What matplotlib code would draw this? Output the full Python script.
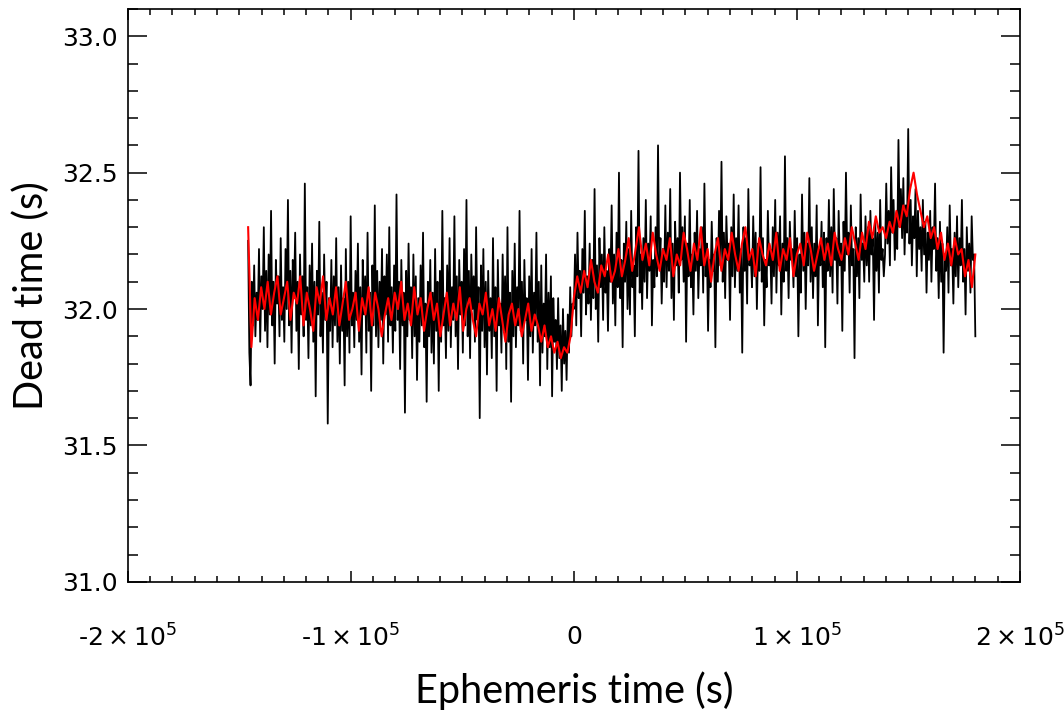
import numpy as np
import matplotlib
matplotlib.use("Agg")
import matplotlib.pyplot as plt
from matplotlib.ticker import MultipleLocator, FixedLocator, FixedFormatter

# black trace, before and after t = 0
black_before = [
    32.25, 31.84, 31.72, 32.10, 31.94, 32.16, 31.90, 32.06, 31.96, 32.22, 31.88, 32.12, 32.00, 32.30, 31.92,
    32.14, 31.86, 32.20, 31.98, 32.36, 31.94, 32.10, 31.80, 32.18, 32.02, 32.12, 31.90, 32.26, 31.96, 32.08,
    31.88, 32.22, 32.00, 32.40, 31.94, 32.14, 31.84, 32.18, 32.04, 32.28, 31.92, 32.10, 31.78, 32.20, 31.98,
    32.12, 31.90, 32.46, 31.96, 32.08, 31.82, 32.16, 31.94, 32.24, 31.88, 32.10, 31.68, 32.14, 31.98, 32.32,
    31.90, 32.06, 31.84, 32.20, 31.96, 32.10, 31.58, 32.04, 31.92, 32.18, 31.86, 32.12, 31.94, 32.26, 31.88,
    32.08, 31.80, 32.16, 31.92, 32.04, 31.72, 32.22, 31.90, 32.10, 31.84, 32.34, 31.94, 32.06, 31.86, 32.14,
    31.96, 32.24, 31.88, 32.08, 31.76, 32.18, 31.98, 32.12, 31.84, 32.28, 31.92, 32.06, 31.70, 32.16, 31.94,
    32.38, 31.90, 32.14, 31.86, 32.10, 31.96, 32.22, 31.80, 32.12, 31.98, 32.20, 31.88, 32.30, 31.94, 32.08,
    31.84, 32.16, 31.92, 32.42, 31.96, 32.10, 31.78, 32.18, 31.94, 32.06, 31.62, 32.14, 31.90, 32.24, 31.96,
    32.08, 31.82, 32.20, 31.90, 32.12, 31.74, 32.04, 31.88, 32.16, 31.94, 32.28, 31.86, 32.02, 31.66, 32.10,
    31.90, 32.18, 31.84, 32.06, 31.80, 32.22, 31.92, 32.10, 31.70, 32.14, 31.88, 32.36, 31.94, 32.04, 31.82,
    32.16, 31.92, 32.26, 31.86, 32.08, 31.96, 32.34, 31.90, 32.12, 31.78, 32.18, 31.98, 32.10, 31.84, 32.22,
    31.94, 32.40, 31.90, 32.14, 31.82, 32.20, 32.00, 32.12, 31.88, 32.30, 31.96, 32.08, 31.60, 32.16, 31.92,
    32.22, 31.86, 32.10, 31.76, 32.14, 31.92, 32.04, 31.82, 32.26, 31.90, 32.08, 31.70, 32.18, 31.94, 32.02,
    31.84, 32.20, 31.92, 32.12, 31.78, 32.30, 31.88, 32.06, 31.66, 32.14, 31.90, 32.24, 31.86, 32.08, 31.94,
    32.36, 31.92, 32.10, 31.80, 32.18, 31.96, 32.04, 31.74, 32.12, 31.90, 32.22, 31.84, 32.06, 31.94, 32.28,
    31.88, 32.10, 31.72, 32.16, 31.84, 32.02, 31.90, 32.20, 31.78, 32.06, 31.86, 32.12, 31.68, 32.04, 31.88,
    31.96, 31.78, 32.04, 31.82, 31.94, 31.70, 32.00, 31.80, 31.92, 31.74, 31.98, 31.84, 32.08, 31.90, 32.02,
]
black_after = [
    32.00, 32.20, 31.94, 32.28, 32.04, 32.14, 31.90, 32.22, 32.06, 32.36, 31.98, 32.12, 32.02, 32.24, 31.96,
    32.18, 32.04, 32.44, 32.00, 32.16, 31.88, 32.26, 32.08, 32.20, 31.96, 32.30, 32.06, 32.14, 31.92, 32.22,
    32.10, 32.38, 32.02, 32.20, 31.94, 32.28, 32.08, 32.50, 32.04, 32.18, 31.86, 32.24, 32.10, 32.32, 32.00,
    32.22, 31.98, 32.36, 32.08, 32.16, 31.90, 32.30, 32.12, 32.58, 32.06, 32.20, 32.00, 32.26, 32.10, 32.40,
    32.04, 32.24, 32.14, 32.34, 31.94, 32.18, 32.08, 32.30, 32.12, 32.60, 32.16, 32.26, 32.02, 32.22, 32.10,
    32.38, 32.08, 32.28, 32.14, 32.44, 32.04, 32.24, 31.96, 32.32, 32.16, 32.26, 32.06, 32.50, 32.18, 32.30,
    32.10, 32.34, 31.88, 32.24, 32.12, 32.40, 32.08, 32.20, 31.98, 32.28, 32.14, 32.36, 32.04, 32.22, 32.16,
    32.30, 32.06, 32.46, 32.12, 32.24, 31.92, 32.18, 32.08, 32.32, 32.14, 32.20, 31.86, 32.26, 32.10, 32.36,
    32.16, 32.54, 32.10, 32.28, 32.04, 32.34, 32.18, 32.24, 31.96, 32.30, 32.12, 32.42, 32.08, 32.26, 32.14,
    32.38, 32.06, 32.22, 31.84, 32.30, 32.14, 32.26, 32.02, 32.44, 32.16, 32.20, 32.08, 32.34, 32.12, 32.28,
    32.00, 32.24, 32.14, 32.52, 32.10, 32.26, 31.94, 32.18, 32.08, 32.36, 32.16, 32.22, 32.02, 32.30, 32.12,
    32.40, 32.06, 32.28, 32.16, 32.34, 31.98, 32.24, 32.10, 32.56, 32.14, 32.26, 32.04, 32.32, 32.18, 32.22,
    32.08, 32.36, 32.12, 32.26, 31.90, 32.20, 32.06, 32.42, 32.14, 32.28, 32.00, 32.24, 32.16, 32.48, 32.10,
    32.30, 32.04, 32.24, 32.12, 32.38, 31.94, 32.22, 32.16, 32.32, 32.08, 32.28, 31.86, 32.26, 32.14, 32.40,
    32.12, 32.30, 32.06, 32.44, 32.18, 32.26, 32.02, 32.36, 32.16, 32.24, 31.92, 32.32, 32.14, 32.50, 32.20,
    32.28, 32.06, 32.38, 32.16, 32.22, 31.82, 32.30, 32.12, 32.26, 32.04, 32.42, 32.18, 32.24, 32.10, 32.34,
    32.16, 32.30, 32.10, 32.36, 32.20, 32.26, 31.96, 32.32, 32.14, 32.28, 32.06, 32.40, 32.18, 32.22, 32.12,
    32.20, 32.46, 32.24, 32.36, 32.16, 32.52, 32.28, 32.40, 32.18, 32.34, 32.22, 32.62, 32.30, 32.44, 32.26,
    32.48, 32.20, 32.38, 32.28, 32.66, 32.24, 32.40, 32.16, 32.34, 32.26, 32.44, 32.12, 32.36, 32.22, 32.30,
    32.14, 32.40, 32.20, 32.32, 32.06, 32.28, 32.18, 32.36, 32.10, 32.30, 32.22, 32.46, 32.14, 32.26, 32.04,
    32.32, 32.10, 32.24, 31.84, 32.20, 32.14, 32.30, 32.06, 32.38, 32.16, 32.22, 32.02, 32.28, 32.12, 32.34,
    32.08, 32.26, 32.16, 32.40, 32.10, 32.22, 31.98, 32.30, 32.14, 32.24, 32.06, 32.34, 32.18, 32.20, 31.90,
]

# red (smoothed) trace
red_before = [
    32.30, 31.86, 32.04, 31.96, 32.08, 32.00, 32.10, 31.98, 32.06, 32.12, 31.98, 32.04, 32.10, 31.96, 32.06,
    32.02, 32.12, 31.94, 32.06, 32.00, 31.92, 32.08, 32.02, 32.12, 31.96, 32.04, 31.98, 32.08, 31.94, 32.02,
    32.10, 31.96, 32.00, 32.06, 31.92, 32.04, 31.98, 32.08, 31.94, 32.06, 32.00, 31.90, 31.98, 32.04, 31.96,
    32.06, 32.00, 32.10, 31.96, 32.02, 31.94, 32.08, 31.98, 32.04, 31.92, 32.00, 32.06, 31.96, 32.02, 31.90,
    31.98, 32.06, 31.94, 32.02, 31.96, 32.08, 31.92, 32.00, 32.04, 31.96, 31.90, 32.02, 31.98, 32.06, 31.94,
    32.00, 31.92, 32.04, 31.96, 31.88, 31.98, 32.02, 31.94, 32.00, 31.90, 31.96, 32.02, 31.92, 31.98, 31.94,
    31.88, 31.94, 31.86, 31.90, 31.84, 31.88, 31.82, 31.86, 31.84, 31.90,
]
red_after = [
    32.04, 32.12, 32.06, 32.14, 32.08, 32.18, 32.10, 32.06, 32.16, 32.12, 32.20, 32.10, 32.14, 32.22, 32.12,
    32.18, 32.26, 32.14, 32.22, 32.30, 32.18, 32.24, 32.16, 32.28, 32.20, 32.14, 32.22, 32.18, 32.26, 32.12,
    32.20, 32.16, 32.28, 32.22, 32.14, 32.24, 32.18, 32.30, 32.16, 32.22, 32.10, 32.20, 32.26, 32.14, 32.22,
    32.18, 32.28, 32.20, 32.14, 32.24, 32.30, 32.18, 32.22, 32.12, 32.26, 32.20, 32.16, 32.24, 32.18, 32.28,
    32.14, 32.22, 32.18, 32.26, 32.12, 32.20, 32.24, 32.16, 32.28, 32.22, 32.14, 32.20, 32.26, 32.18, 32.24,
    32.16, 32.28, 32.22, 32.18, 32.26, 32.20, 32.30, 32.24, 32.18, 32.28, 32.22, 32.32, 32.26, 32.34, 32.28,
    32.30, 32.26, 32.32, 32.28, 32.36, 32.30, 32.38, 32.34, 32.44, 32.50, 32.42, 32.36, 32.30, 32.34, 32.26,
    32.30, 32.22, 32.28, 32.18, 32.24, 32.16, 32.26, 32.20, 32.22, 32.12, 32.18, 32.08, 32.20,
]

t_start, t_step, t_end = -1.46e5, 0.0, 1.80e5

xticks = [-2e5, -1e5, 0, 1e5, 2e5]
xticklabels = [r'-$\mathdefault{2\times10^{5}}$', r'-$\mathdefault{1\times10^{5}}$', '0',
               r'$\mathdefault{1\times10^{5}}$', r'$\mathdefault{2\times10^{5}}$']

xb = np.concatenate([np.linspace(t_start, t_step, len(black_before), endpoint=False),
                     np.linspace(t_step, t_end, len(black_after))])
yb = black_before + black_after
xr = np.concatenate([np.linspace(t_start, t_step, len(red_before), endpoint=False),
                     np.linspace(t_step, t_end, len(red_after))])
yr = red_before + red_after

fig = plt.figure(figsize=(10.64, 7.13), dpi=100)
ax = fig.add_axes([0.12, 0.184, 0.8386, 0.8034])

ax.plot(xb, yb, color='black', lw=1.3)
ax.plot(xr, yr, color='red', lw=1.5)

ax.set_xlim(-2e5, 2e5)
ax.set_ylim(31.0, 33.1)

ax.xaxis.set_major_locator(FixedLocator(xticks))
ax.xaxis.set_major_formatter(FixedFormatter(xticklabels))
ax.xaxis.set_minor_locator(MultipleLocator(1e4))
ax.yaxis.set_major_locator(MultipleLocator(0.5))
ax.yaxis.set_minor_locator(MultipleLocator(0.1))
ax.yaxis.set_major_formatter(plt.FuncFormatter(lambda v, p: '%.1f' % v))

ax.tick_params(axis='x', which='major', direction='in', length=8, width=1.1,
               top=True, pad=31, labelsize=18)
ax.tick_params(axis='x', which='minor', direction='in', length=4, width=1.1, top=True)
ax.tick_params(axis='y', which='major', direction='in', length=13.5, width=1.1,
               right=True, pad=7, labelsize=18)
ax.tick_params(axis='y', which='minor', direction='in', length=7, width=1.1, right=True)
for s in ax.spines.values():
    s.set_linewidth(1.2)

ax.set_xlabel('Ephemeris time (s)', family='Lato', fontsize=28.5, labelpad=14)
ax.set_ylabel('Dead time (s)', family='Lato', fontsize=28.5, labelpad=9)

fig.savefig('out.png', dpi=100)
